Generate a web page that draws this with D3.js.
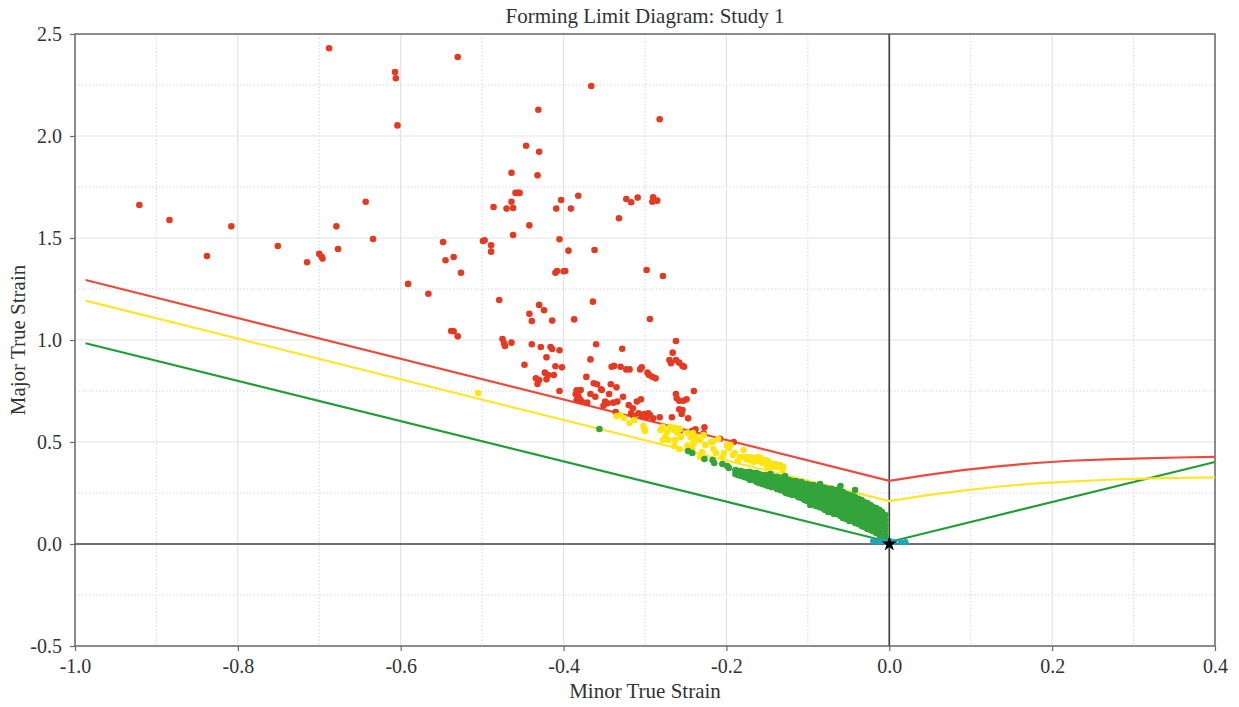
<!DOCTYPE html>
<html>
<head>
<meta charset="utf-8">
<script src="https://cdn.jsdelivr.net/npm/d3@7"></script>
<style>
  body { margin: 0; background: #fff; }
  text { font-family: "Liberation Serif", "DejaVu Serif", serif; fill: #333; }
</style>
</head>
<body>
<svg id="chart" width="1239" height="707"></svg>
<script>
// forming limit curves [minor, major]
const redCurve = [[-0.987, 1.294], [0, 0.31], [0.045, 0.338], [0.09, 0.362], [0.136, 0.382], [0.18, 0.397],
  [0.222, 0.408], [0.267, 0.415], [0.312, 0.42], [0.355, 0.424], [0.4, 0.427]];
const yellowCurve = [[-0.987, 1.193], [0, 0.21], [0.045, 0.238], [0.09, 0.262], [0.136, 0.282], [0.18, 0.297],
  [0.222, 0.306], [0.267, 0.315], [0.312, 0.32], [0.355, 0.324], [0.4, 0.327]];
const greenCurve = [[-0.987, 0.984], [0, 0.01], [0.4, 0.402]];

// measured points [minor, major]
const redPoints = [
  [-0.921, 1.662], [-0.884, 1.588], [-0.838, 1.412], [-0.808, 1.557], [-0.751, 1.461], [-0.715, 1.381],
  [-0.700, 1.422], [-0.697, 1.408], [-0.696, 1.399], [-0.677, 1.446], [-0.679, 1.557], [-0.688, 2.430],
  [-0.643, 1.678], [-0.634, 1.495], [-0.607, 2.314], [-0.606, 2.283], [-0.604, 2.052], [-0.591, 1.275],
  [-0.566, 1.227], [-0.548, 1.480], [-0.545, 1.391], [-0.535, 1.407], [-0.530, 2.387], [-0.526, 1.330],
  [-0.538, 1.044], [-0.535, 1.043], [-0.530, 1.018], [-0.499, 1.485], [-0.497, 1.489], [-0.489, 1.464],
  [-0.489, 1.433], [-0.486, 1.652], [-0.479, 1.196], [-0.475, 1.005], [-0.473, 0.984], [-0.472, 0.971],
  [-0.464, 0.987], [-0.470, 1.644], [-0.464, 1.820], [-0.464, 1.678], [-0.462, 1.515], [-0.462, 1.647],
  [-0.459, 1.721], [-0.456, 1.721], [-0.454, 1.721], [-0.448, 0.879], [-0.446, 1.952], [-0.442, 1.562],
  [-0.442, 1.129], [-0.439, 1.093], [-0.439, 0.979], [-0.434, 0.812], [-0.432, 0.784], [-0.430, 0.804],
  [-0.431, 2.129], [-0.430, 1.923], [-0.432, 1.807], [-0.430, 1.172], [-0.428, 0.966], [-0.424, 1.146],
  [-0.423, 0.840], [-0.421, 0.915], [-0.421, 0.807], [-0.419, 0.828], [-0.416, 0.966], [-0.414, 0.956],
  [-0.414, 1.095], [-0.412, 0.828], [-0.410, 1.330], [-0.408, 1.338], [-0.410, 0.871], [-0.409, 1.644],
  [-0.405, 1.494], [-0.405, 0.950], [-0.405, 0.750], [-0.403, 1.686], [-0.402, 0.866], [-0.400, 1.337],
  [-0.398, 1.338], [-0.394, 1.438], [-0.391, 1.644], [-0.387, 1.101], [-0.385, 0.734], [-0.384, 0.753],
  [-0.382, 0.727], [-0.384, 0.706], [-0.382, 1.707], [-0.379, 0.755], [-0.380, 0.709], [-0.378, 0.700],
  [-0.372, 0.819], [-0.371, 0.693], [-0.367, 0.905], [-0.367, 0.735], [-0.366, 2.245], [-0.364, 1.188],
  [-0.363, 0.788], [-0.362, 1.441], [-0.361, 0.722], [-0.360, 0.979], [-0.359, 0.783], [-0.354, 0.758],
  [-0.353, 0.755], [-0.351, 0.678], [-0.349, 0.698], [-0.346, 0.690], [-0.344, 0.735], [-0.342, 0.783],
  [-0.341, 0.869], [-0.339, 0.693], [-0.338, 0.873], [-0.336, 0.647], [-0.335, 0.768], [-0.334, 0.698],
  [-0.332, 1.597], [-0.330, 0.869], [-0.328, 0.957], [-0.327, 0.722], [-0.323, 1.691], [-0.323, 0.856],
  [-0.320, 0.681], [-0.319, 0.856], [-0.317, 1.675], [-0.317, 0.641], [-0.315, 0.665], [-0.314, 0.627],
  [-0.310, 0.698], [-0.309, 1.698], [-0.308, 0.641], [-0.306, 0.856], [-0.305, 0.709], [-0.304, 0.866],
  [-0.304, 0.627], [-0.301, 0.637], [-0.298, 1.343], [-0.298, 0.621], [-0.297, 0.840], [-0.295, 0.828],
  [-0.294, 1.103], [-0.294, 0.632], [-0.291, 0.820], [-0.290, 0.616], [-0.291, 1.678], [-0.290, 1.700],
  [-0.287, 0.812], [-0.285, 1.683], [-0.282, 0.621], [-0.282, 2.082], [-0.278, 1.314], [-0.270, 0.902],
  [-0.268, 0.886], [-0.267, 0.621], [-0.266, 0.938], [-0.262, 0.995], [-0.262, 0.735], [-0.262, 0.902],
  [-0.261, 0.714], [-0.258, 0.702], [-0.258, 0.889], [-0.258, 0.660], [-0.257, 0.555], [-0.254, 0.873],
  [-0.254, 0.657], [-0.255, 0.637], [-0.253, 0.702], [-0.252, 0.869], [-0.249, 0.709], [-0.247, 0.616],
  [-0.242, 0.555], [-0.240, 0.750], [-0.240, 0.550], [-0.238, 0.562], [-0.227, 0.572], [-0.228, 0.543],
  [-0.208, 0.516], [-0.191, 0.500], [-0.296, 0.641]
];

const yellowPoints = [
  [-0.505, 0.740], [-0.335, 0.627], [-0.330, 0.632], [-0.326, 0.618], [-0.319, 0.593], [-0.313, 0.608],
  [-0.302, 0.578], [-0.301, 0.564], [-0.300, 0.554], [-0.281, 0.559], [-0.278, 0.574], [-0.273, 0.549],
  [-0.275, 0.525], [-0.271, 0.510], [-0.269, 0.574], [-0.265, 0.559], [-0.263, 0.569], [-0.260, 0.544],
  [-0.257, 0.564], [-0.278, 0.510], [-0.263, 0.510], [-0.256, 0.525], [-0.264, 0.480], [-0.258, 0.466],
  [-0.248, 0.544], [-0.244, 0.525], [-0.248, 0.480], [-0.242, 0.471], [-0.240, 0.495], [-0.236, 0.515],
  [-0.232, 0.510], [-0.228, 0.534], [-0.226, 0.485], [-0.230, 0.451], [-0.232, 0.426], [-0.217, 0.500],
  [-0.216, 0.466], [-0.213, 0.446], [-0.210, 0.515], [-0.205, 0.426], [-0.203, 0.446], [-0.199, 0.480],
  [-0.197, 0.471], [-0.195, 0.485], [-0.192, 0.436], [-0.190, 0.446], [-0.186, 0.407], [-0.183, 0.426],
  [-0.179, 0.461], [-0.177, 0.426], [-0.176, 0.417], [-0.173, 0.412], [-0.171, 0.426], [-0.167, 0.422],
  [-0.167, 0.402], [-0.162, 0.407], [-0.161, 0.426], [-0.158, 0.422], [-0.156, 0.397], [-0.152, 0.412],
  [-0.150, 0.377], [-0.149, 0.407], [-0.144, 0.377], [-0.143, 0.392], [-0.140, 0.392], [-0.138, 0.377],
  [-0.134, 0.387], [-0.130, 0.377], [-0.131, 0.363], [-0.238, 0.525], [-0.219, 0.500], [-0.199, 0.485],
  [-0.241, 0.544], [-0.241, 0.495]
];

// scattered green points
const greenPoints = [
  [-0.356, 0.564], [-0.247, 0.456], [-0.242, 0.446], [-0.227, 0.417], [-0.217, 0.412], [-0.215, 0.397],
  [-0.205, 0.392], [-0.199, 0.382], [-0.197, 0.373], [-0.187, 0.358], [-0.179, 0.343], [-0.172, 0.353],
  [-0.146, 0.343], [-0.128, 0.333], [-0.085, 0.294], [-0.060, 0.284], [-0.042, 0.265]
];
// dense green band, read column by column: [minor, [major values]]
const greenBand = [
  [-0.189, [0.363, 0.343]], [-0.182, [0.358, 0.333]], [-0.174, [0.353, 0.324]],
  [-0.167, [0.348, 0.328, 0.314]], [-0.160, [0.343, 0.324, 0.299]], [-0.152, [0.338, 0.314, 0.289]],
  [-0.145, [0.333, 0.309, 0.279]], [-0.138, [0.328, 0.299, 0.270]], [-0.130, [0.319, 0.289, 0.260]],
  [-0.123, [0.314, 0.289, 0.265, 0.245]], [-0.115, [0.309, 0.284, 0.260, 0.240]],
  [-0.108, [0.304, 0.279, 0.250, 0.225]], [-0.101, [0.294, 0.265, 0.235, 0.211]],
  [-0.093, [0.289, 0.265, 0.240, 0.216, 0.196]], [-0.086, [0.279, 0.255, 0.230, 0.206, 0.181]],
  [-0.079, [0.275, 0.250, 0.221, 0.191, 0.167]], [-0.071, [0.270, 0.240, 0.211, 0.181, 0.157]],
  [-0.064, [0.265, 0.235, 0.206, 0.176, 0.147]], [-0.057, [0.255, 0.230, 0.206, 0.181, 0.152, 0.127]],
  [-0.049, [0.240, 0.216, 0.191, 0.162, 0.137, 0.113]], [-0.042, [0.230, 0.206, 0.181, 0.152, 0.127, 0.103]],
  [-0.034, [0.216, 0.191, 0.167, 0.137, 0.113, 0.088]], [-0.027, [0.201, 0.176, 0.152, 0.123, 0.098, 0.074]],
  [-0.020, [0.181, 0.157, 0.132, 0.108, 0.083, 0.064]], [-0.012, [0.167, 0.142, 0.118, 0.093, 0.069, 0.044]],
  [-0.005, [0.142, 0.118, 0.093, 0.069, 0.044, 0.020]],
  // in-between columns
  [-0.186, [0.358, 0.338]], [-0.178, [0.353, 0.328]], [-0.171, [0.353, 0.333, 0.314]],
  [-0.163, [0.348, 0.324, 0.304]], [-0.156, [0.338, 0.314, 0.294]], [-0.149, [0.333, 0.309, 0.284]],
  [-0.141, [0.328, 0.304, 0.279]], [-0.134, [0.324, 0.294, 0.265]], [-0.127, [0.314, 0.289, 0.265, 0.250]],
  [-0.119, [0.309, 0.284, 0.260, 0.240]], [-0.112, [0.304, 0.275, 0.250, 0.230]],
  [-0.104, [0.294, 0.265, 0.240, 0.216]], [-0.097, [0.289, 0.260, 0.235, 0.211, 0.191]],
  [-0.090, [0.279, 0.255, 0.230, 0.206, 0.186]], [-0.082, [0.275, 0.250, 0.225, 0.201, 0.176]],
  [-0.075, [0.270, 0.245, 0.221, 0.196, 0.172, 0.157]], [-0.068, [0.265, 0.240, 0.216, 0.191, 0.167, 0.147]],
  [-0.060, [0.260, 0.235, 0.211, 0.186, 0.162, 0.137]], [-0.053, [0.245, 0.221, 0.196, 0.172, 0.147, 0.123]],
  [-0.045, [0.235, 0.211, 0.186, 0.162, 0.137, 0.113]], [-0.038, [0.221, 0.196, 0.172, 0.147, 0.123, 0.098]],
  [-0.031, [0.206, 0.181, 0.157, 0.132, 0.108, 0.083]], [-0.023, [0.191, 0.167, 0.142, 0.118, 0.093, 0.069]],
  [-0.016, [0.176, 0.152, 0.127, 0.103, 0.078, 0.054]], [-0.009, [0.157, 0.132, 0.108, 0.083, 0.059, 0.034]]
];
const cyanPoints = [[-0.020, 0.015], [-0.014, 0.010], [-0.009, 0.015], [-0.004, 0.010], [0.001, 0.015],
  [0.006, 0.010], [0.014, 0.010], [0.020, 0.010]];
const bluePoints = [[-0.017, 0.012]];

const xTicks = [-1.0, -0.8, -0.6, -0.4, -0.2, 0.0, 0.2, 0.4];
const xMinor = [-0.9, -0.7, -0.5, -0.3, -0.1, 0.1, 0.3];
const yTicks = [-0.5, 0.0, 0.5, 1.0, 1.5, 2.0, 2.5];
const yMinor = [-0.25, 0.25, 0.75, 1.25, 1.75, 2.25];

const svg = d3.select('#chart');
const plotLeft = 75, plotRight = 1215, plotTop = 34, plotBottom = 646;

const x = d3.scaleLinear().domain([-1, 0.4]).range([plotLeft, plotRight]);
const y = d3.scaleLinear().domain([-0.5, 2.5]).range([plotBottom, plotTop]);

// grid
const grid = svg.append('g');
grid.selectAll('.xminor').data(xMinor).join('line')
  .attr('x1', d => x(d)).attr('x2', d => x(d)).attr('y1', plotTop).attr('y2', plotBottom)
  .attr('stroke', '#d6d6d6').attr('stroke-dasharray', '1.5,2');
grid.selectAll('.yminor').data(yMinor).join('line')
  .attr('y1', d => y(d)).attr('y2', d => y(d)).attr('x1', plotLeft).attr('x2', plotRight)
  .attr('stroke', '#d6d6d6').attr('stroke-dasharray', '1.5,2');
grid.selectAll('.xmajor').data(xTicks).join('line')
  .attr('x1', d => x(d)).attr('x2', d => x(d)).attr('y1', plotTop).attr('y2', plotBottom)
  .attr('stroke', '#e3e3e3').attr('stroke-width', 1.2);
grid.selectAll('.ymajor').data(yTicks).join('line')
  .attr('y1', d => y(d)).attr('y2', d => y(d)).attr('x1', plotLeft).attr('x2', plotRight)
  .attr('stroke', '#e3e3e3').attr('stroke-width', 1.2);

// frame
svg.append('rect')
  .attr('x', plotLeft).attr('y', plotTop).attr('width', plotRight - plotLeft).attr('height', plotBottom - plotTop)
  .attr('fill', 'none').attr('stroke', '#6a6a6a').attr('stroke-width', 1.5);

// zero lines
svg.append('line').attr('x1', x(0)).attr('x2', x(0)).attr('y1', plotTop).attr('y2', plotBottom)
  .attr('stroke', '#444').attr('stroke-width', 1.7);
svg.append('line').attr('x1', plotLeft).attr('x2', plotRight).attr('y1', y(0)).attr('y2', y(0))
  .attr('stroke', '#444').attr('stroke-width', 1.7);

// axes
const fmt = d => d3.format('.1f')(d).replace('−', '-');
const xAxis = svg.append('g').attr('transform', `translate(0,${plotBottom})`)
  .call(d3.axisBottom(x).tickValues(xTicks).tickFormat(fmt).tickSize(5).tickPadding(8));
const yAxis = svg.append('g').attr('transform', `translate(${plotLeft},0)`)
  .call(d3.axisLeft(y).tickValues(yTicks).tickFormat(fmt).tickSize(5).tickPadding(8));
[xAxis, yAxis].forEach(a => {
  a.select('.domain').remove();
  a.selectAll('.tick line').attr('stroke', '#6a6a6a').attr('stroke-width', 1.2);
  a.selectAll('.tick text').attr('font-size', 20).attr('font-family', 'Liberation Serif').attr('fill', '#333');
});

// limit curves
const line = d3.line().x(d => x(d[0])).y(d => y(d[1]));
[[greenCurve, '#1e9e35'], [yellowCurve, '#ffe629'], [redCurve, '#ec4a3c']].forEach(([c, col]) => {
  svg.append('path').datum(c).attr('d', line)
    .attr('fill', 'none').attr('stroke', col).attr('stroke-width', 2.2);
});

// points
const greenAll = greenPoints.concat(greenBand.flatMap(([mx, ys]) => ys.map(v => [mx, v])));
function dots(data, col, r) {
  svg.append('g').selectAll('circle').data(data).join('circle')
    .attr('cx', d => x(d[0])).attr('cy', d => y(d[1])).attr('r', r)
    .attr('fill', col);
}
dots(redPoints, '#e53a22', 3.3);
dots(yellowPoints, '#ffe411', 3.3);
dots(greenAll, '#33a43c', 3.3);
dots(bluePoints, '#2a5fa8', 2.5);
dots(cyanPoints, '#1fa6bd', 3);

svg.append('path')
  .attr('d', d3.symbol().type(d3.symbolStar).size(70)())
  .attr('transform', `translate(${x(0)},${y(0)})`)
  .attr('fill', '#000');

// titles
svg.append('text').text('Forming Limit Diagram: Study 1')
  .attr('x', (plotLeft + plotRight) / 2).attr('y', 23).attr('text-anchor', 'middle').attr('font-size', 21);
svg.append('text').text('Minor True Strain')
  .attr('x', (plotLeft + plotRight) / 2).attr('y', 698).attr('text-anchor', 'middle').attr('font-size', 21);
svg.append('text').text('Major True Strain')
  .attr('transform', `translate(25,${(plotTop + plotBottom) / 2}) rotate(-90)`)
  .attr('text-anchor', 'middle').attr('font-size', 21);
</script>
</body>
</html>
